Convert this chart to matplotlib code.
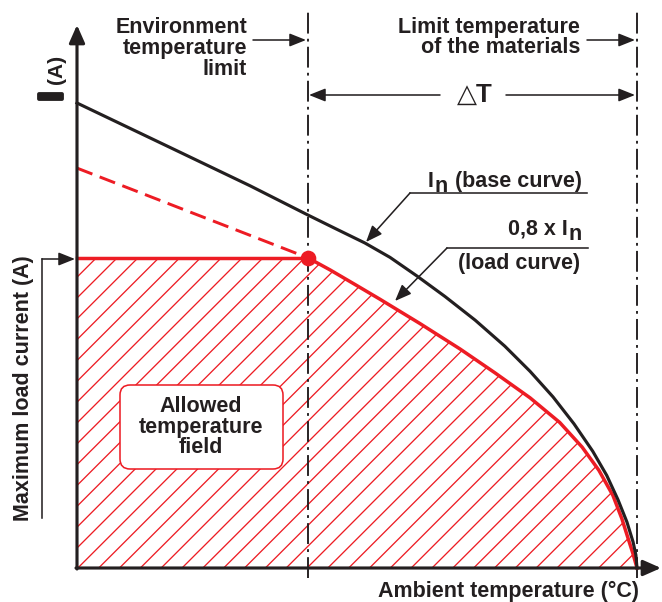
import matplotlib
matplotlib.use('Agg')
import matplotlib.pyplot as plt
from matplotlib.patches import FancyBboxPatch
import matplotlib.patheffects as pe

plt.rcParams['font.family'] = ['Liberation Sans', 'DejaVu Sans']
plt.rcParams['lines.scale_dashes'] = False
plt.rcParams['hatch.linewidth'] = 0.75

# ---------------- data ----------------
temp_base = [0.0, 17.9, 30.9, 41.25, 46.3, 51.4, 55.9, 60.7, 65.7, 71.1, 76.4, 80.9,
             85.0, 88.75, 92.1, 94.6, 96.6, 98.2, 99.3, 99.8, 100.0]
base_curve = [100.0, 89.7, 82.2, 75.9, 72.9, 69.9, 66.8, 62.8, 58.4, 53.3, 47.7, 42.3,
              36.8, 31.0, 25.1, 19.9, 14.7, 9.9, 5.6, 2.8, 0.0]
temp_load = [41.25, 45.2, 49.6, 54.1, 61.2, 68.4, 74.6, 80.9, 86.2, 90.2, 93.2,
             95.7, 97.3, 98.4, 99.3, 100.0]
load_curve = [66.7, 64.1, 61.0, 57.8, 52.6, 47.1, 42.0, 36.6, 31.3, 26.0, 21.0,
              15.6, 10.6, 6.4, 3.0, 0.0]
temp_extrap = [0.0, 41.25]
load_extrap = [86.0, 66.7]
env_limit = 41.25
material_limit = 100
max_load = 66.7

BLACK = '#231F20'
RED = '#ED1C24'
DPI = 125
FS = 12.4

fig = plt.figure(figsize=(662 / DPI, 602 / DPI), dpi=DPI)
ax = fig.add_axes([0, 0, 1, 1])
X0, Y0, SX, SY = 77, 568, 5.6, 4.65


def X(px):
    return (px - X0) / SX


def Y(py):
    return (Y0 - py) / SY


ax.set_xlim(X(0), X(662))
ax.set_ylim(Y(602), Y(0))
ax.axis('off')

txt = dict(color=BLACK, fontweight='bold', fontsize=FS)

# hatched allowed region
fx = [0.0] + temp_load
fy = [max_load] + load_curve
ax.fill_between(fx, 0, fy, facecolor='none', edgecolor=RED, linewidth=0,
                hatch='//', zorder=1)

# curves
ax.plot(temp_base, base_curve, color=BLACK, lw=1.8, zorder=4,
        solid_joinstyle='round')
ax.plot([0, env_limit], [max_load, max_load], color=RED, lw=2.0, zorder=3)
ax.plot(temp_load, load_curve, color=RED, lw=2.0, zorder=3,
        solid_joinstyle='round')
ax.plot(temp_extrap, load_extrap, color=RED, lw=1.7, dashes=(9.5, 4.5), zorder=3)
ax.plot([env_limit], [max_load], 'o', color=RED, ms=8, zorder=5)

# limit lines
for xv in (env_limit, material_limit):
    ax.plot([xv, xv], [Y(578), Y(10)], color=BLACK, lw=1.1,
            dashes=(12, 3, 1.6, 3), zorder=2)

# axes with arrows
big_arrow = dict(arrowstyle='-|>,head_length=0.86,head_width=0.38', color=BLACK,
                 lw=1.8, shrinkA=0, shrinkB=0, mutation_scale=10)
ax.annotate('', xy=(0, Y(25)), xytext=(0, Y(569)), arrowprops=big_arrow, zorder=6)
ax.annotate('', xy=(X(661), 0), xytext=(X(76), 0), arrowprops=big_arrow, zorder=6)

small_arrow = dict(arrowstyle='-|>,head_length=0.8,head_width=0.32', color=BLACK,
                   lw=0.9, shrinkA=0, shrinkB=0, mutation_scale=10)

# maximum load bracket
ax.plot([X(42), X(42)], [Y(518), Y(259)], color=BLACK, lw=0.9)
ax.annotate('', xy=(X(75), Y(259)), xytext=(X(42), Y(259)), arrowprops=small_arrow)

# top labels
ax.text(X(247), Y(48.5), 'Environment\ntemperature\nlimit', ha='right', va='center',
        multialignment='right', linespacing=0.98, **txt)
ax.annotate('', xy=(X(306), Y(40)), xytext=(X(253), Y(40)), arrowprops=small_arrow)
ax.text(X(580), Y(37.5), 'Limit temperature\nof the materials', ha='right', va='center',
        multialignment='right', linespacing=0.98, **txt)
ax.annotate('', xy=(X(635), Y(40)), xytext=(X(587), Y(40)), arrowprops=small_arrow)

# delta T
ax.annotate('', xy=(X(309), Y(95)), xytext=(X(440), Y(95)), arrowprops=small_arrow)
ax.annotate('', xy=(X(635), Y(95)), xytext=(X(506), Y(95)), arrowprops=small_arrow)
ax.text(X(475), Y(95), '△T', ha='center', va='center', color=BLACK,
        fontweight='bold', fontsize=15)

# y axis label I (A)
ax.text(X(62), Y(101), 'I', rotation=90, rotation_mode='anchor', ha='left',
        va='baseline', color=BLACK, fontweight='bold', fontsize=19,
        path_effects=[pe.withStroke(linewidth=2.2, foreground=BLACK)])
ax.text(X(62), Y(84), '(A)', rotation=90, rotation_mode='anchor', ha='left',
        va='baseline', color=BLACK, fontweight='bold', fontsize=12)

ax.text(X(24), Y(388), 'Maximum load current (A)', rotation=90, ha='center',
        va='center', **txt)
ax.text(X(508), Y(591), 'Ambient temperature (°C)', ha='center', va='center', **txt)

# allowed field box
box = FancyBboxPatch((X(120), Y(469)), X(283) - X(120), Y(385) - Y(469),
                     boxstyle='round,pad=0,rounding_size=1.8', mutation_aspect=1.2,
                     fc='white', ec=RED, lw=0.9, zorder=2)
ax.add_patch(box)
ax.text(X(201), Y(427), 'Allowed\ntemperature\nfield', ha='center', va='center',
        multialignment='center', linespacing=0.95, zorder=3, **txt)

# In (base curve)
ax.plot([X(587), X(410)], [Y(193), Y(193)], color=BLACK, lw=0.9)
ax.annotate('', xy=(X(366), Y(242)), xytext=(X(410), Y(193)), arrowprops=small_arrow)
tI = ax.text(X(428), Y(187), 'I', ha='left', va='baseline', **txt)
tn = ax.annotate('n', xy=(1, Y(187)), xycoords=(tI, 'data'), xytext=(0.6, -3),
                 textcoords='offset points', ha='left', va='baseline', **txt)
ax.annotate(' (base curve)', xy=(1, Y(187)), xycoords=(tn, 'data'), xytext=(0.5, 0),
            textcoords='offset points', ha='left', va='baseline', **txt)

# 0,8 x In (load curve)
ax.plot([X(588), X(447)], [Y(248), Y(248)], color=BLACK, lw=0.9)
ax.annotate('', xy=(X(395), Y(301)), xytext=(X(447), Y(248)), arrowprops=small_arrow)
t8 = ax.text(X(508), Y(235), '0,8 x I', ha='left', va='baseline', **txt)
ax.annotate('n', xy=(1, Y(235)), xycoords=(t8, 'data'), xytext=(0.6, -3),
            textcoords='offset points', ha='left', va='baseline', **txt)
ax.text(X(519.5), Y(263), '(load curve)', ha='center', va='center', **txt)

fig.savefig('out.png', dpi=DPI)
